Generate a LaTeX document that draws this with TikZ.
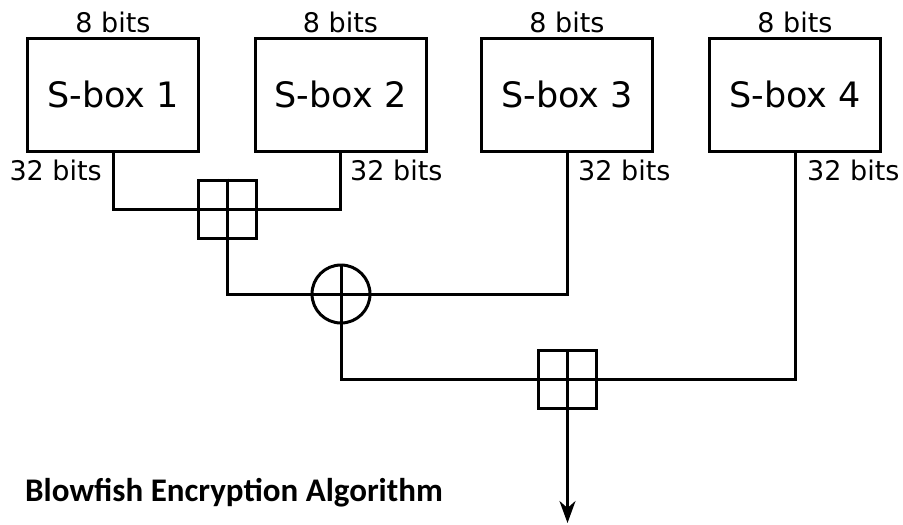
\documentclass[tikz,border=0pt]{standalone}
\usepackage{fontspec}
\setmainfont{DejaVu Sans}
\newfontfamily\titlefont{Carlito}
\usetikzlibrary{arrows.meta}
\begin{document}
\begin{tikzpicture}[x=1pt,y=-1pt,
  wire/.style={line width=3pt},
  sbox/.style={draw,line width=3pt,minimum width=171pt,minimum height=113pt,inner sep=0pt,font=\fontsize{35}{40}\selectfont},
  addbox/.style={draw,line width=3pt,minimum size=58pt,inner sep=0pt},
  xorc/.style={draw,circle,line width=3pt,minimum size=58pt,inner sep=0pt},
  lbl/.style={inner sep=0pt,font=\fontsize{27}{32}\selectfont}]
\useasboundingbox (0,0) rectangle (903,525);
\fill[white] (0,0) rectangle (903,525);
% S-boxes
\node[sbox] (s1) at (113,94.5) {S-box 1};
\node[sbox] (s2) at (340.5,94.5) {S-box 2};
\node[sbox] (s3) at (567,94.5) {S-box 3};
\node[sbox] (s4) at (795,94.5) {S-box 4};
% top labels
\node[lbl,anchor=base] (t1) at (113,32) {8 bits};
\node[lbl,anchor=base] (t2) at (340.5,32) {8 bits};
\node[lbl,anchor=base] (t3) at (567,32) {8 bits};
\node[lbl,anchor=base] (t4) at (795,32) {8 bits};
% output labels
\node[lbl,anchor=base east] (o1) at (102,180) {32 bits};
\node[lbl,anchor=base west] (o2) at (350,180) {32 bits};
\node[lbl,anchor=base west] (o3) at (578,180) {32 bits};
\node[lbl,anchor=base west] (o4) at (807,180) {32 bits};
% operators
\node[addbox] (p1) at (227,209) {};
\node[xorc] (x1) at (341,294) {};
\node[addbox] (p2) at (567.5,379.5) {};
\coordinate (out) at (567.5,523);
% crosses
\draw[wire] (p1.north) -- (p1.south) (p1.west) -- (p1.east);
\draw[wire] (x1.north) -- (x1.south) (x1.west) -- (x1.east);
\draw[wire] (p2.north) -- (p2.south) (p2.west) -- (p2.east);
% wires
\draw[wire] (s1.south) |- (p1.west);
\draw[wire] (s2.south) |- (p1.east);
\draw[wire] (p1.south) |- (x1.west);
\draw[wire] (s3.south) |- (x1.east);
\draw[wire] (x1.south) |- (p2.west);
\draw[wire] (s4.south) |- (p2.east);
\draw[line width=2.6pt,-{Stealth[length=22pt,width=16pt,inset=7pt]}] (p2.south) -- (out);
% title
\node[inner sep=0pt,anchor=base west,font=\titlefont\bfseries\fontsize{33}{39}\selectfont] (title) at (25,501) {Blowfish Encryption Algorithm};
\end{tikzpicture}
\end{document}
